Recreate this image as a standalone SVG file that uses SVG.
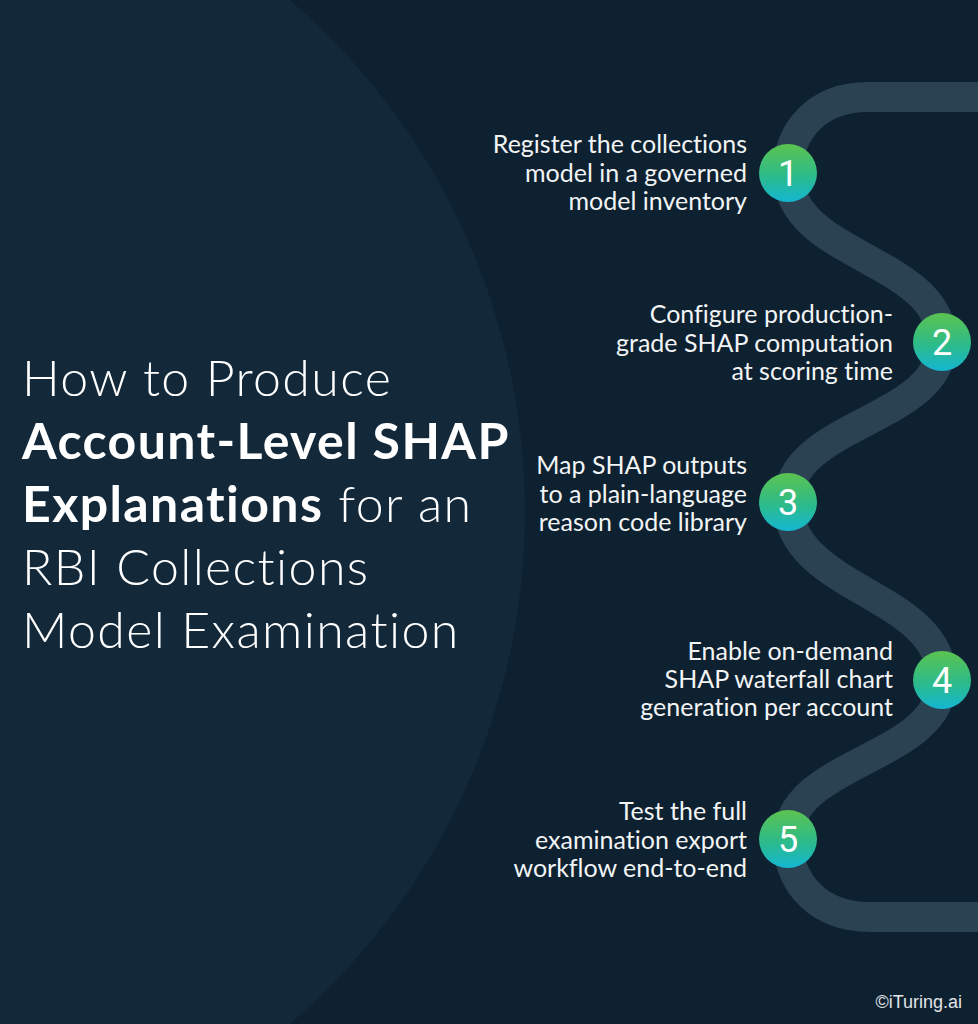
<svg xmlns="http://www.w3.org/2000/svg" width="978" height="1024" viewBox="0 0 978 1024">
  <defs>
    <linearGradient id="g" x1="0" y1="0" x2="0" y2="1">
      <stop offset="0" stop-color="#5cc350"/>
      <stop offset="0.55" stop-color="#2cbb8a"/>
      <stop offset="1" stop-color="#14b6d2"/>
    </linearGradient>
    <style>
      .lbl{font-family:Lato,"Liberation Sans",sans-serif;font-size:25px;fill:#f2f4f5;text-anchor:end;font-variant-ligatures:none}
      .num{font-family:Roboto,"Liberation Sans",sans-serif;font-size:36px;fill:#ffffff;text-anchor:middle}
      .ttl{font-family:Lato,"Liberation Sans",sans-serif;font-size:50px;fill:#ffffff;font-weight:300;letter-spacing:1.4px;font-variant-ligatures:none}
      .b{font-weight:700}
      .dot{fill:url(#g)}
    </style>
  </defs>
  <rect width="978" height="1024" fill="#0e2130"/>
  <circle cx="-150" cy="512" r="675" fill="#13293a"/>
  <g id="connectors">
    <path d="M978,97 H868 C818,97 788,130 788,173 C788,258 942,258 942,342 C942,422 788,422 788,502 C788,592 942,592 942,680 C942,760 788,760 788,839 C788,885 820,917 870,917 H978" fill="none" stroke="#2a4252" stroke-width="30"/>
  </g>
  <g id="title">
    <text class="ttl" x="22" y="396">How to Produce</text>
    <text class="ttl" x="22" y="459"><tspan class="b">Account-Level SHAP</tspan></text>
    <text class="ttl" x="22" y="522"><tspan class="b">Explanations</tspan> for an</text>
    <text class="ttl" x="22" y="585">RBI Collections</text>
    <text class="ttl" x="22" y="648">Model Examination</text>
  </g>
  <g id="step1">
    <circle class="dot" cx="788" cy="173" r="29"/>
    <text class="num" x="788" y="186">1</text>
    <text class="lbl" x="747" y="153">Register the collections</text>
    <text class="lbl" x="747" y="182">model in a governed</text>
    <text class="lbl" x="747" y="210">model inventory</text>
  </g>
  <g id="step2">
    <circle class="dot" cx="942" cy="342" r="29"/>
    <text class="num" x="942" y="355">2</text>
    <text class="lbl" x="893" y="323">Configure production-</text>
    <text class="lbl" x="893" y="352">grade SHAP computation</text>
    <text class="lbl" x="893" y="380">at scoring time</text>
  </g>
  <g id="step3">
    <circle class="dot" cx="788" cy="502" r="29"/>
    <text class="num" x="788" y="515">3</text>
    <text class="lbl" x="747" y="474">Map SHAP outputs</text>
    <text class="lbl" x="747" y="503">to a plain-language</text>
    <text class="lbl" x="747" y="531">reason code library</text>
  </g>
  <g id="step4">
    <circle class="dot" cx="942" cy="680" r="29"/>
    <text class="num" x="942" y="693">4</text>
    <text class="lbl" x="893" y="660">Enable on-demand</text>
    <text class="lbl" x="893" y="688">SHAP waterfall chart</text>
    <text class="lbl" x="893" y="716">generation per account</text>
  </g>
  <g id="step5">
    <circle class="dot" cx="788" cy="839" r="29"/>
    <text class="num" x="788" y="852">5</text>
    <text class="lbl" x="747" y="820">Test the full</text>
    <text class="lbl" x="747" y="849">examination export</text>
    <text class="lbl" x="747" y="877">workflow end-to-end</text>
  </g>
  <text x="962" y="1008" font-family="'Liberation Sans',Arial,sans-serif" font-size="18" fill="#e0e4e6" text-anchor="end">©iTuring.ai</text>
</svg>
